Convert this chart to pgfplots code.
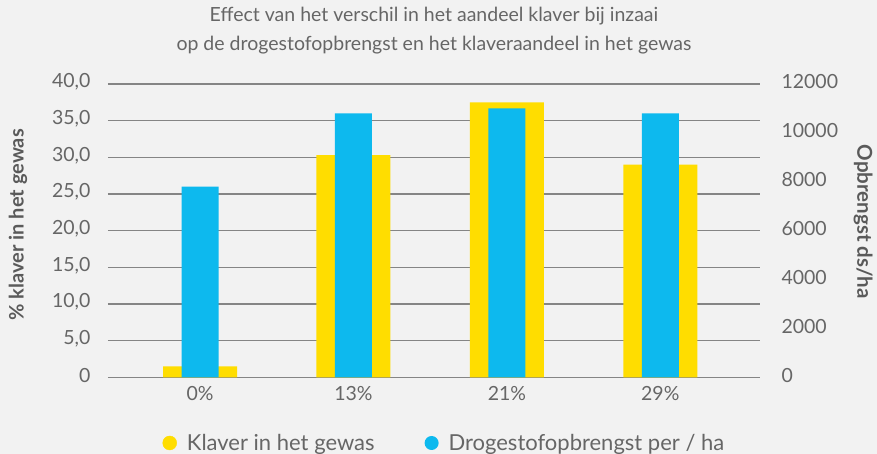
\documentclass[border=0pt]{standalone}
\usepackage{pgfplots}
\pgfplotsset{compat=1.18}
\usepackage{fontspec}
\setmainfont{Lato}
\definecolor{bg}{HTML}{F2F2F2}
\definecolor{kyel}{HTML}{FFDD00}
\definecolor{kblue}{HTML}{0DB9EE}
\definecolor{txt}{HTML}{666666}
\definecolor{txtb}{HTML}{5A5A5A}
\definecolor{gridc}{HTML}{858585}
\begin{document}
\begin{tikzpicture}[x=1pt,y=1pt]
\fill[bg] (0,0) rectangle (877,454);
\path[use as bounding box] (0,0) rectangle (877,454);
\begin{axis}[
  at={(108pt,76.7pt)}, anchor=south west,
  scale only axis, width=652pt, height=293.3pt,
  xmin=-0.6, xmax=3.65, ymin=0, ymax=40,
  axis line style={draw=none},
  major tick length=0pt,
  ytick={0,5,...,40},
  yticklabels={0,{5,0},{10,0},{15,0},{20,0},{25,0},{30,0},{35,0},{40,0}},
  xtick={0,1,2,3},
  xticklabels={0\%,13\%,21\%,29\%},
  ymajorgrids, grid style={draw=gridc, line width=1.1pt},
  tick label style={font=\fontsize{19.5}{22}\selectfont, text=txt},
  yticklabel style={xshift=-14pt, yshift=2pt},
  xticklabel style={yshift=-6pt},
  ylabel={\% klaver in het gewas},
  ylabel style={at={(axis description cs:-0.138,0.52)}, anchor=center, font=\bfseries\fontsize{20}{24}\selectfont, text=txtb},
  title={Effect van het verschil in het aandeel klaver bij inzaai\\op de drogestofopbrengst en het klaveraandeel in het gewas},
  title style={at={(axis description cs:0.5,1)}, anchor=north, yshift=74pt, align=center, font=\fontsize{19.5}{29}\selectfont, text=txt},
  clip=false,
]
\addplot[ybar, bar width=74pt, bar shift=0pt, draw=none, fill=kyel] coordinates {(0,1.5) (1,30.3) (2,37.5) (3,29.0)};
\end{axis}
\begin{axis}[
  at={(108pt,76.7pt)}, anchor=south west,
  scale only axis, width=652pt, height=293.3pt,
  xmin=-0.6, xmax=3.65, ymin=0, ymax=12000,
  axis line style={draw=none},
  major tick length=0pt,
  xtick=\empty,
  ytick={0,2000,...,12000},
  scaled y ticks=false,
  yticklabel pos=right,
  /pgf/number format/assume math mode=true,
  /pgf/number format/set thousands separator={},
  tick label style={font=\fontsize{19.5}{22}\selectfont, text=txt},
  yticklabel style={xshift=18pt, yshift=2pt},
  ylabel={Opbrengst ds/ha},
  ylabel style={at={(axis description cs:1.158,0.53)}, anchor=center, rotate=180, font=\bfseries\fontsize{20.5}{24}\selectfont, text=txtb},
  legend style={at={(axis description cs:0.516,-0.224)}, anchor=center, draw=none, fill=none, font=\fontsize{22}{26}\selectfont, text=txt, legend columns=2, /tikz/every odd column/.append style={column sep=8pt}, /tikz/every even column/.append style={column sep=48pt}},
  clip=false,
]
\addlegendimage{legend image code/.code={\fill[kyel] (7pt,0pt) circle (7pt);}}
\addlegendentry{Klaver in het gewas}
\addplot[ybar, bar width=37pt, bar shift=0pt, draw=none, fill=kblue, legend image code/.code={\fill[kblue] (7pt,0pt) circle (7pt);}] coordinates {(0,7800) (1,10800) (2,11000) (3,10800)};
\addlegendentry{Drogestofopbrengst per / ha}
\end{axis}
\end{tikzpicture}
\end{document}
